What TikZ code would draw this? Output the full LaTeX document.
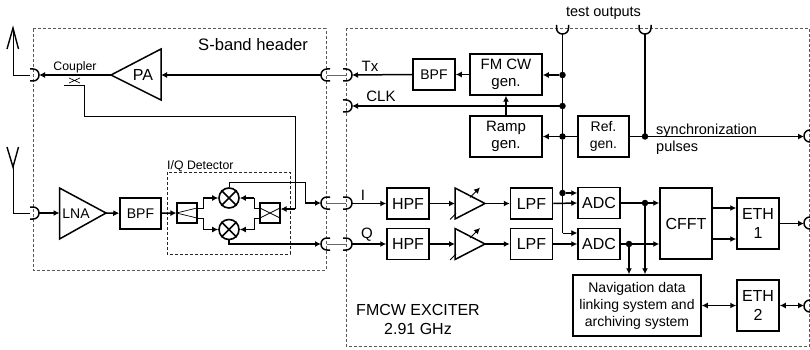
\documentclass[tikz,border=0pt]{standalone}
\usepackage{fontspec}
\setmainfont{Liberation Sans}
\usetikzlibrary{arrows.meta}
\tikzset{
  wire/.style={line width=1.5pt},
  thinwire/.style={line width=0.9pt},
  arr/.style={wire,-{Latex[length=6pt,width=6pt]}},
  darr/.style={wire,{Latex[length=6pt,width=6pt]}-{Latex[length=6pt,width=6pt]}},
  thinarr/.style={thinwire,-{Latex[length=6pt,width=6pt]}},
  frame/.style={line width=1pt,draw=black!65,dash pattern=on 3pt off 2pt},
  innerframe/.style={line width=0.9pt,draw=black!85,dash pattern=on 3pt off 2pt},
  blk/.style={draw,line width=1.5pt,inner sep=0pt,align=center,font=\fontsize{14}{17}\selectfont},
  lbl/.style={inner sep=0pt,align=center,font=\fontsize{14}{17}\selectfont},
  big/.style={font=\fontsize{16}{19}\selectfont},
  mid/.style={font=\fontsize{15}{17}\selectfont},
  small/.style={inner sep=0pt,font=\fontsize{12.3}{14}\selectfont},
  tri/.style={line width=1.5pt,line join=miter},
  dot/.style={circle,fill=black,inner sep=0pt,minimum size=6.5pt},
  mixer/.style={draw,circle,line width=1.6pt,inner sep=0pt,minimum size=20pt},
  hyb/.style={draw,line width=1.1pt,inner sep=0pt,minimum width=20pt,minimum height=20pt},
  cn/.pic={\draw[line width=1.5pt] (-3,-6) -- (0,-6) .. controls (3.5,-6) and (6,-3.5) .. (6,0) .. controls (6,3.5) and (3.5,6) .. (0,6) -- (-3,6);},
}
\newcommand{\blkat}[7][]{\node[blk,#1,minimum width=#4 pt,minimum height=#5 pt] (#6) at (#2,#3) {#7};}
\begin{document}
\begin{tikzpicture}[x=1pt,y=-1pt]
\useasboundingbox (0,0) rectangle (810,350);
% frames
\draw[frame] (33,29) rectangle (326,270);
\draw[frame] (346.5,28.5) rectangle (809,346.5);
\draw[innerframe] (167,172) rectangle (290,254);
% text
\node[lbl,font=\fontsize{16.6}{19}\selectfont,anchor=west] (sband) at (198,45) {S-band header};
\node[small] (coup) at (75,67.5) {Coupler};
\node[small,anchor=west] (iq) at (167,166) {I/Q Detector};
\node[lbl,font=\fontsize{14.5}{17}\selectfont] (tst) at (603.5,13) {test outputs};
\node[lbl,mid] (tx) at (370,66) {Tx};
\node[lbl,mid] (clk) at (381,96.5) {CLK};
\node[lbl,mid] (il) at (363,195) {I};
\node[lbl,mid] (ql) at (367,235) {Q};
\node[lbl,font=\fontsize{14.5}{17}\selectfont,anchor=west] (s1) at (656,131) {synchronization};
\node[lbl,font=\fontsize{14.5}{17}\selectfont,anchor=west] (s2) at (656,148) {pulses};
\node[lbl,big] (exc) at (418,319.5) {FMCW EXCITER\\2.91 GHz};
% blocks
\node[lbl,font=\fontsize{16}{17}\selectfont] (pal) at (143,75) {PA};
\node[lbl] (lnal) at (76,214) {LNA};
\blkat{140.5}{213.5}{41}{31}{bpfa}{BPF}
\blkat{434}{74.5}{42}{31}{bpfb}{BPF}
\blkat[mid]{506}{74.5}{72}{41}{fm}{FM CW\\gen.}
\blkat[mid]{506}{136.5}{72}{41}{ramp}{Ramp\\gen.}
\blkat{603.5}{136.5}{51}{41}{ref}{Ref.\\gen.}
\blkat[big]{408}{203.5}{42}{31}{hpfa}{HPF}
\blkat[big]{408}{244}{42}{31}{hpfb}{HPF}
\blkat[big]{531.5}{203.5}{42}{31}{lpfa}{LPF}
\blkat[big]{531.5}{244}{42}{31}{lpfb}{LPF}
\blkat[big]{599}{203}{42}{31}{adca}{ADC}
\blkat[big]{599}{244}{42}{31}{adcb}{ADC}
\blkat[big]{686}{223.5}{52}{71}{cfft}{CFFT}
\blkat[big]{758}{223.5}{42}{51}{etha}{ETH\\1}
\blkat[big]{758}{305.5}{42}{51}{ethb}{ETH\\2}
\blkat{637}{305.5}{128}{61}{nav}{Navigation data\\linking system and\\archiving system}
% triangles
\coordinate (pat) at (111,75); \coordinate (pab) at (161,75);
\draw[tri] (pat) -- (161,49) -- (161,100) -- cycle;
\coordinate (lnab) at (59.5,213); \coordinate (lnat) at (106,213);
\draw[tri] (lnat) -- (59.5,188) -- (59.5,239) -- cycle;
\foreach \n/\y in {a/203.5,b/244}{
  \coordinate (amp\n b) at (455,\y); \coordinate (amp\n t) at (485,\y);
  \draw[tri] (amp\n t) -- (455,\y-15.5) -- (455,\y+15.5) -- cycle;
  \draw[thinwire] (450,\y+16) -- (456,\y+10);
  \draw[thinarr] (470,\y-6) -- (480,\y-16);
}
% connectors
\coordinate (c1) at (33,75); \coordinate (c2) at (33,213);
\pic at (c1) {cn}; \pic at (c2) {cn};
\foreach \n/\y in {t/75,i/203,q/244}{
  \coordinate (pl\n) at (327,\y); \coordinate (pr\n) at (346,\y);
  \pic[rotate=180] at (pl\n) {cn};
  \pic at (pr\n) {cn};
  \draw[line width=0.8pt,draw=black!60] (pl\n) -- (pr\n);
}
\coordinate (prc) at (346,106); \pic at (prc) {cn};
\foreach \n/\y in {s/136,e/223,n/306}{
  \coordinate (o\n) at (810,\y); \pic[rotate=180] at (o\n) {cn};
}
\coordinate (tu1) at (562.5,28); \coordinate (tu2) at (645,28);
\pic[rotate=-90] at (tu1) {cn}; \pic[rotate=-90] at (tu2) {cn};
% antennas
\coordinate (ant1) at (13,28); \coordinate (ant2) at (13,167);
\draw[line width=1.4pt] (7,49) -- (ant1) -- (18.5,49);
\draw[line width=1.4pt] (7,147) -- (ant2) -- (18.5,147);
\draw[thinwire] (ant1) -- (13,75) -- (30,75);
\draw[thinwire] (ant2) -- (13,213) -- (30,213);
% S-band wires
\coordinate (c1o) at (39,75); \coordinate (c2o) at (39,213);
\draw[arr] (pat) -- (c1o);
\draw[arr] (321,75) -- (pab);
\draw[arr] (c2o) -- (lnab);
\draw[arr] (lnat) -- (bpfa);
% coupler
\coordinate (cpl) at (74.5,80);
\draw[line width=0.7pt] (69,78) -- (80,83) (69,83) -- (80,78);
\draw[thinwire] (64,85) -- (84,85) -- (84,116) -- (295,116) -- (295,209);
% I/Q detector
\node[hyb] (hl) at (187,213) {};
\node[hyb] (hr) at (270,213) {};
\node[mixer] (ma) at (229,198) {};
\node[mixer] (mb) at (229,229.5) {};
\draw[line width=0.7pt] (hl.west) -- (197,208) (hl.west) -- (197,218);
\draw[line width=0.7pt] (260,208) -- (280,218) (260,218) -- (280,208);
\foreach \m in {ma,mb}{
  \draw[line width=1.5pt] (\m.45) -- (\m.225) (\m.135) -- (\m.315);
}
\draw[arr] (bpfa) -- (hl.west);
\draw[thinwire] (197,208) -- (203,208) -- (203,198);
\draw[thinwire] (197,218) -- (203,218) -- (203,229.5);
\draw[arr] (203,198) -- (ma.west);
\draw[arr] (203,229.5) -- (mb.west);
\draw[thinwire] (hr.west|-0,208) -- (254,208) -- (254,198);
\draw[thinwire] (hr.west|-0,218) -- (254,218) -- (254,229.5);
\draw[arr] (254,198) -- (ma.east);
\draw[arr] (254,229.5) -- (mb.east);
\draw[arr] (295,209) -- (hr.east|-0,209);
\draw[thinwire] (ma.north) -- (229,182) -- (305,182) -- (305,203);
\draw[arr] (305,203) -- (321,203);
\draw[arr] (mb.south) -- (229,244) -- (321,244);
% exciter wires
\draw[arr] (bpfb.west) -- (352,75);
\draw[arr] (fm.west) -- (bpfb.east);
\draw[arr] (563,106) -- (352,106);
\draw[arr] (ramp.north) -- (fm.south);
\draw[wire] (tu1) ++(0,6) -- (562.5,136.5);
\draw[wire] (tu2) ++(0,6) -- (645,136.5);
\node[dot] (d1) at (562.5,75) {};
\node[dot] (d2) at (562.5,106) {};
\node[dot] (d3) at (562.5,136.5) {};
\node[dot] (d4) at (645,136.5) {};
\node[dot] (d5) at (562.5,193) {};
\node[dot] (d6) at (645,203) {};
\node[dot] (d7) at (629,244) {};
\draw[arr] (d1) -- (fm.east|-d1);
\draw[arr] (ref.west) -- (ramp.east);
\draw[arr] (ref.east) -- (804,136.5);
\draw[thinwire] (d3) -- (d5);
\draw[thinwire] (d5) -- (562.5,233);
\draw[thinarr] (562.5,233) -- (adcb.west|-0,233);
\draw[arr] (d5) -- (adca.west|-d5);
% signal chain
\draw[arr] (352,203.5) -- (hpfa.west);
\draw[arr] (352,244) -- (hpfb.west);
\draw[arr] (hpfa.east) -- (ampab);
\draw[arr] (hpfb.east) -- (ampbb);
\draw[arr] (ampat) -- (lpfa.west);
\draw[arr] (ampbt) -- (lpfb.west);
\draw[arr] (lpfa.east) -- (adca.west);
\draw[arr] (lpfb.east) -- (adcb.west);
\draw[arr] (adca.east) -- (cfft.west|-adca.east);
\draw[arr] (adcb.east) -- (cfft.west|-adcb.east);
\draw[arr] (d6) -- (d6|-nav.north);
\draw[arr] (d7) -- (d7|-nav.north);
\draw[arr] (cfft.east|-0,208) -- (etha.west|-0,208);
\draw[arr] (cfft.east|-0,239) -- (etha.west|-0,239);
\draw[arr] (etha.east) -- (804,223.5);
\draw[darr] (nav.east) -- (ethb.west);
\draw[darr] (ethb.east) -- (804,305.5);
\end{tikzpicture}
\end{document}
